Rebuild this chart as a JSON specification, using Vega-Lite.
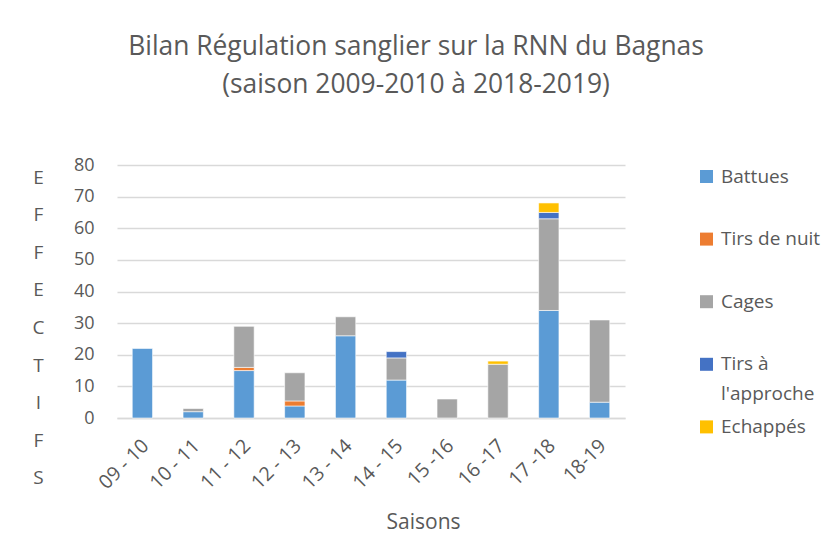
{
  "$schema": "https://vega.github.io/schema/vega-lite/v6.json",
  "width": 508,
  "height": 253,
  "autosize": "none",
  "padding": {"left": 117, "top": 165, "right": 204, "bottom": 121},
  "background": "white",
  "title": {
    "text": ["Bilan Régulation sanglier sur la RNN du Bagnas", "(saison 2009-2010 à 2018-2019)"],
    "font": "Open Sans",
    "fontSize": 26.4,
    "fontWeight": "normal",
    "color": "#595959",
    "anchor": "middle",
    "lineHeight": 38,
    "offset": 58,
    "dx": 45
  },
  "data": {
    "values": [
      {"saison": "09 - 10", "type": "Battues", "ordre": 1, "effectif": 22},
      {"saison": "10 - 11", "type": "Battues", "ordre": 1, "effectif": 2},
      {"saison": "10 - 11", "type": "Cages", "ordre": 3, "effectif": 1},
      {"saison": "11 - 12", "type": "Battues", "ordre": 1, "effectif": 15},
      {"saison": "11 - 12", "type": "Tirs de nuit", "ordre": 2, "effectif": 1},
      {"saison": "11 - 12", "type": "Cages", "ordre": 3, "effectif": 13},
      {"saison": "12 - 13", "type": "Battues", "ordre": 1, "effectif": 3.8},
      {"saison": "12 - 13", "type": "Tirs de nuit", "ordre": 2, "effectif": 1.6},
      {"saison": "12 - 13", "type": "Cages", "ordre": 3, "effectif": 8.9},
      {"saison": "13 - 14", "type": "Battues", "ordre": 1, "effectif": 26},
      {"saison": "13 - 14", "type": "Cages", "ordre": 3, "effectif": 6},
      {"saison": "14 - 15", "type": "Battues", "ordre": 1, "effectif": 12},
      {"saison": "14 - 15", "type": "Cages", "ordre": 3, "effectif": 7},
      {"saison": "14 - 15", "type": "Tirs à l'approche", "ordre": 4, "effectif": 2},
      {"saison": "15 -16", "type": "Cages", "ordre": 3, "effectif": 6},
      {"saison": "16 -17", "type": "Cages", "ordre": 3, "effectif": 17},
      {"saison": "16 -17", "type": "Echappés", "ordre": 5, "effectif": 1},
      {"saison": "17 -18", "type": "Battues", "ordre": 1, "effectif": 34},
      {"saison": "17 -18", "type": "Cages", "ordre": 3, "effectif": 29},
      {"saison": "17 -18", "type": "Tirs à l'approche", "ordre": 4, "effectif": 2},
      {"saison": "17 -18", "type": "Echappés", "ordre": 5, "effectif": 3},
      {"saison": "18-19", "type": "Battues", "ordre": 1, "effectif": 5},
      {"saison": "18-19", "type": "Cages", "ordre": 3, "effectif": 26}
    ]
  },
  "mark": {"type": "bar", "stroke": "white", "strokeWidth": 0.6},
  "encoding": {
    "x": {
      "field": "saison",
      "type": "nominal",
      "sort": ["09 - 10", "10 - 11", "11 - 12", "12 - 13", "13 - 14", "14 - 15", "15 -16", "16 -17", "17 -18", "18-19"],
      "scale": {"paddingInner": 0.6, "paddingOuter": 0.3},
      "axis": {
        "labelAngle": -45,
        "labelFont": "Open Sans",
        "labelFontSize": 19.5,
        "labelColor": "#595959",
        "labelPadding": 18,
        "labelOffset": -3,
        "ticks": false,
        "domainColor": "#d9d9d9",
        "domainWidth": 1.3,
        "title": "Saisons",
        "titleFont": "Open Sans",
        "titleFontSize": 21,
        "titleFontWeight": "normal",
        "titleColor": "#595959",
        "titleX": 306,
        "titleY": 104,
        "titleBaseline": "middle",
        "titleAlign": "center"
      }
    },
    "y": {
      "aggregate": "sum",
      "field": "effectif",
      "type": "quantitative",
      "scale": {"domain": [0, 80], "nice": false},
      "axis": {
        "values": [0, 10, 20, 30, 40, 50, 60, 70, 80],
        "labelFont": "Open Sans",
        "labelFontSize": 18,
        "labelColor": "#595959",
        "labelPadding": 23,
        "ticks": false,
        "domain": false,
        "gridColor": "#d9d9d9",
        "gridWidth": 1.3,
        "title": ["E", "F", "F", "E", "C", "T", "I", "F", "S"],
        "titleFont": "Open Sans",
        "titleFontSize": 19,
        "titleFontWeight": "normal",
        "titleColor": "#595959",
        "titleAngle": 0,
        "titleLineHeight": 37.6,
        "titleX": -79,
        "titleY": 12,
        "titleAlign": "center",
        "titleBaseline": "middle"
      }
    },
    "color": {
      "field": "type",
      "type": "nominal",
      "scale": {
        "domain": ["Battues", "Tirs de nuit", "Cages", "Tirs à l'approche", "Echappés"],
        "range": ["#5B9BD5", "#ED7D31", "#A5A5A5", "#4472C4", "#FFC000"]
      },
      "legend": {
        "title": null,
        "orient": "none",
        "legendX": 580,
        "legendY": 2,
        "padding": 0,
        "gridAlign": "all",
        "symbolType": "square",
        "symbolSize": 169,
        "symbolStrokeWidth": 0,
        "labelFont": "Open Sans",
        "labelFontSize": 19,
        "labelColor": "#595959",
        "labelOffset": 5,
        "labelLimit": 200,
        "rowPadding": 12.6,
        "labelExpr": "datum.label === \"Tirs à l'approche\" ? [\"Tirs à\", \"l'approche\"] : datum.label"
      }
    },
    "order": {"field": "ordre", "type": "quantitative", "sort": "ascending"}
  },
  "config": {
    "view": {"stroke": null},
    "style": {"guide-label": {"lineHeight": 30}}
  }
}
